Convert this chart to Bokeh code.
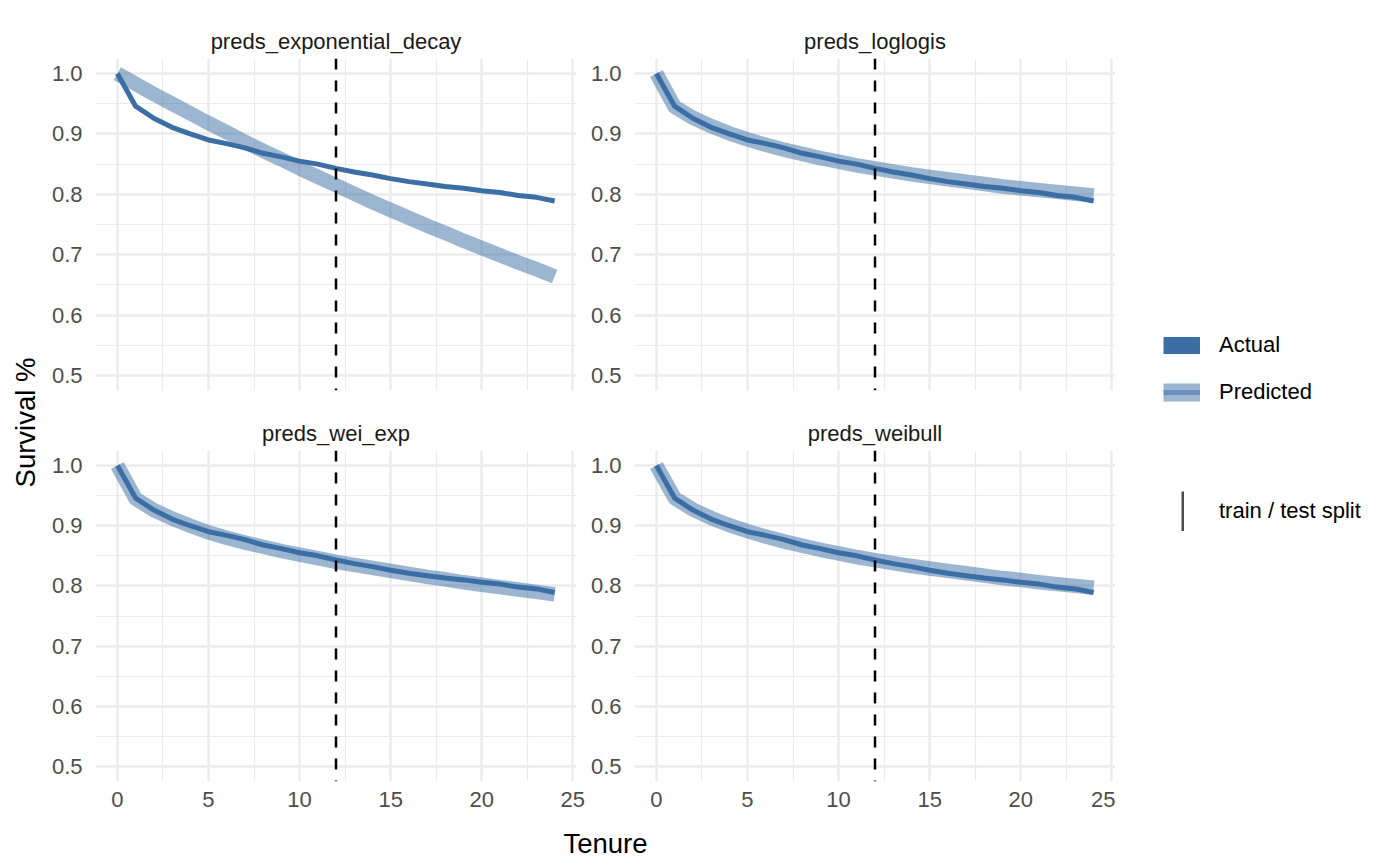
import numpy as np
from bokeh.plotting import figure
from bokeh.layouts import row, column
from bokeh.models import (FixedTicker, PrintfTickFormatter, Span, Range1d,
                          Legend, LegendItem, Label)
from bokeh.embed import file_html
from bokeh.resources import INLINE

# ---------------- data ----------------
tenure = [0, 1, 2, 3, 4, 5, 6, 7, 8, 9, 10, 11, 12, 13, 14, 15, 16, 17, 18, 19, 20, 21, 22, 23, 24]

actual = [1.000, 0.946, 0.926, 0.911, 0.900, 0.890, 0.884, 0.877, 0.868, 0.862,
          0.855, 0.850, 0.843, 0.837, 0.832, 0.826, 0.821, 0.817, 0.813, 0.810,
          0.806, 0.803, 0.798, 0.795, 0.789]

preds_exponential_decay = [1.000, 0.983, 0.966, 0.950, 0.934, 0.918, 0.903, 0.887, 0.872, 0.858,
                           0.843, 0.829, 0.815, 0.801, 0.787, 0.774, 0.761, 0.748, 0.736, 0.723,
                           0.711, 0.699, 0.687, 0.676, 0.664]

preds_loglogis = [1.000, 0.945, 0.927, 0.913, 0.901, 0.891, 0.882, 0.874, 0.867, 0.860,
                  0.854, 0.848, 0.843, 0.838, 0.833, 0.829, 0.825, 0.821, 0.817, 0.813,
                  0.810, 0.807, 0.804, 0.801, 0.798]

preds_wei_exp = [1.000, 0.945, 0.926, 0.912, 0.900, 0.889, 0.880, 0.872, 0.865, 0.858,
                 0.852, 0.846, 0.840, 0.835, 0.830, 0.825, 0.820, 0.815, 0.811, 0.806,
                 0.802, 0.798, 0.794, 0.790, 0.786]

preds_weibull = [1.000, 0.946, 0.927, 0.913, 0.901, 0.891, 0.882, 0.874, 0.867, 0.860,
                 0.854, 0.848, 0.843, 0.838, 0.833, 0.829, 0.825, 0.821, 0.817, 0.813,
                 0.810, 0.806, 0.803, 0.800, 0.797]

panel_names = ["preds_exponential_decay", "preds_loglogis", "preds_wei_exp", "preds_weibull"]
panel_preds = [preds_exponential_decay, preds_loglogis, preds_wei_exp, preds_weibull]

split_tenure = 12

x_ticks = [0, 5, 10, 15, 20, 25]
x_minor_ticks = [2.5, 7.5, 12.5, 17.5, 22.5]
y_ticks = [0.5, 0.6, 0.7, 0.8, 0.9, 1.0]
y_minor_ticks = [0.55, 0.65, 0.75, 0.85, 0.95]

legend_labels = ["Actual", "Predicted", "train / test split"]
x_title = "Tenure"
y_title = "Survival %"

# ---------------- style ----------------
FONT = "Liberation Sans"
ACT = "#3A6EA5"
GRID = "#EBEBEB"
X_LIM = (-1.2, 25.2)
Y_LIM = (0.475, 1.025)


def make_panel(title, pred, show_x, b_top, b_bottom, b_right, fh):
    p = figure(frame_width=481, frame_height=fh,
               min_border_left=47, min_border_right=b_right,
               min_border_top=b_top, min_border_bottom=b_bottom,
               x_range=Range1d(*X_LIM), y_range=Range1d(*Y_LIM),
               output_backend="svg", toolbar_location=None, title=title)
    p.outline_line_color = None
    p.background_fill_color = "white"
    p.border_fill_color = "white"

    p.title.align = "center"
    p.title.text_font = FONT
    p.title.text_font_size = "22px"
    p.title.text_font_style = "normal"
    p.title.text_color = "#1A1A1A"

    p.xaxis.ticker = FixedTicker(ticks=x_ticks, minor_ticks=x_minor_ticks)
    p.yaxis.ticker = FixedTicker(ticks=y_ticks, minor_ticks=y_minor_ticks)
    p.yaxis.formatter = PrintfTickFormatter(format="%.1f")
    for ax in (p.xaxis, p.yaxis):
        ax.axis_line_color = None
        ax.major_tick_line_color = None
        ax.minor_tick_line_color = None
        ax.major_tick_out = 0
        ax.major_tick_in = 0
        ax.minor_tick_out = 0
        ax.minor_tick_in = 0
        ax.major_label_text_font = FONT
        ax.major_label_text_font_size = "22px"
        ax.major_label_text_color = "#4D4D4D"
    p.yaxis.major_label_standoff = 13
    p.xaxis.major_label_standoff = 10
    if not show_x:
        p.xaxis.visible = False

    for g in (p.xgrid, p.ygrid):
        g.grid_line_color = GRID
        g.grid_line_width = 2.4
        g.minor_grid_line_color = GRID
        g.minor_grid_line_width = 1.2

    p.line(tenure, pred, line_width=14.5, line_color=ACT, line_alpha=0.5,
           line_join="round", line_cap="butt")
    p.line(tenure, actual, line_width=5, line_color=ACT,
           line_join="round", line_cap="butt")
    p.add_layout(Span(location=split_tenure, dimension="height", line_color="black",
                      line_width=2.5, line_dash="11 11"))
    return p


p1 = make_panel(panel_names[0], panel_preds[0], False, 58, 22, 11, 332)
p2 = make_panel(panel_names[1], panel_preds[1], False, 58, 22, 0, 332)
p3 = make_panel(panel_names[2], panel_preds[2], True, 38, 39, 11, 331)
p4 = make_panel(panel_names[3], panel_preds[3], True, 38, 39, 0, 331)


def blank(w, h):
    f = figure(frame_width=w, frame_height=h, min_border=0,
               x_range=Range1d(0, 1), y_range=Range1d(0, 1),
               x_axis_type=None, y_axis_type=None,
               output_backend="svg", toolbar_location=None)
    f.outline_line_color = None
    f.grid.visible = False
    f.background_fill_color = "white"
    f.border_fill_color = "white"
    return f


# y-axis title
ylab = blank(48, 865)
ylab.add_layout(Label(x=25, y=443, x_units="screen", y_units="screen", text=y_title,
                      angle=1.5707963, text_align="center", text_baseline="middle",
                      text_font=FONT, text_font_size="27.5px", text_color="black"))

# x-axis title
xlab = blank(1067, 45)
xlab.add_layout(Label(x=557, y=22, x_units="screen", y_units="screen", text=x_title,
                      text_align="center", text_baseline="alphabetic",
                      text_font=FONT, text_font_size="27.5px", text_color="black"))

# legend (proxy renderers hold no visible points; they only supply the key styles)
lf = blank(285, 865)
NO_PT = np.array([np.nan])
r_act = lf.line(x=NO_PT, y=NO_PT, line_width=17, line_color=ACT)
r_pred_a = lf.line(x=NO_PT, y=NO_PT, line_width=18, line_color=ACT, line_alpha=0.5)
r_pred_b = lf.line(x=NO_PT, y=NO_PT, line_width=5, line_color=ACT, line_alpha=0.5)
r_split = lf.line(x=NO_PT, y=NO_PT, line_width=40, line_color="black", line_alpha=0.7)

leg1 = Legend(items=[LegendItem(label=legend_labels[0], renderers=[r_act]),
                     LegendItem(label=legend_labels[1], renderers=[r_pred_a, r_pred_b])],
              location=(48, 460), glyph_width=37, glyph_height=26, label_height=26,
              spacing=21, label_standoff=19, padding=0, margin=0,
              border_line_color=None, background_fill_alpha=0,
              label_text_font=FONT, label_text_font_size="22px", label_text_color="black")
leg2 = Legend(items=[LegendItem(label=legend_labels[2], renderers=[r_split])],
              location=(66, 334), glyph_width=3, glyph_height=40, label_height=40,
              label_standoff=35, padding=0, margin=0,
              border_line_color=None, background_fill_alpha=0,
              label_text_font=FONT, label_text_font_size="22px", label_text_color="black")
lf.add_layout(leg1)
lf.add_layout(leg2)

root = row(ylab, column(row(p1, p2), row(p3, p4), xlab), lf)

open("out.html", "w").write(file_html(root, INLINE))
